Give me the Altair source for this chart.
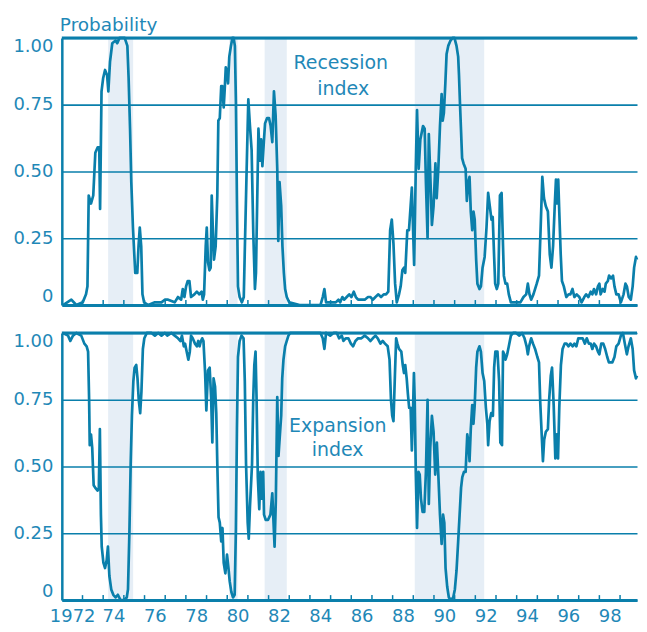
import json
import altair as alt
import pandas as pd

# ---------------- data ----------------
recession = [
    (1972.06, 0.00), (1972.46, 0.02), (1972.70, 0.00), (1973.01, 0.01), (1973.17, 0.04),
    (1973.24, 0.07), (1973.30, 0.41), (1973.41, 0.38), (1973.52, 0.41), (1973.62, 0.57),
    (1973.73, 0.59), (1973.81, 0.59), (1973.85, 0.36), (1973.92, 0.80), (1974.00, 0.85),
    (1974.09, 0.88), (1974.19, 0.86), (1974.25, 0.80), (1974.33, 0.91), (1974.44, 0.98),
    (1974.60, 0.99), (1974.68, 0.98), (1974.79, 1.00), (1975.04, 1.00), (1975.17, 0.97),
    (1975.23, 0.85), (1975.30, 0.66), (1975.36, 0.46), (1975.44, 0.29), (1975.55, 0.12),
    (1975.65, 0.12), (1975.71, 0.22), (1975.77, 0.29), (1975.84, 0.22), (1975.90, 0.04),
    (1975.98, 0.01), (1976.18, 0.00), (1976.50, 0.01), (1976.82, 0.01), (1976.98, 0.02),
    (1977.14, 0.02), (1977.46, 0.01), (1977.62, 0.03), (1977.77, 0.02), (1977.85, 0.06),
    (1977.93, 0.03), (1978.01, 0.07), (1978.09, 0.09), (1978.17, 0.09), (1978.25, 0.03),
    (1978.41, 0.04), (1978.53, 0.05), (1978.65, 0.04), (1978.76, 0.05), (1978.82, 0.02),
    (1978.88, 0.04), (1978.96, 0.22), (1979.01, 0.29), (1979.07, 0.16), (1979.14, 0.13),
    (1979.20, 0.14), (1979.25, 0.41), (1979.31, 0.27), (1979.36, 0.17), (1979.44, 0.22),
    (1979.52, 0.41), (1979.57, 0.69), (1979.64, 0.70), (1979.71, 0.82), (1979.76, 0.82),
    (1979.83, 0.74), (1979.88, 0.81), (1979.93, 0.89), (1979.99, 0.87), (1980.04, 0.83),
    (1980.10, 0.93), (1980.18, 0.97), (1980.25, 1.00), (1980.31, 1.00), (1980.37, 0.97),
    (1980.42, 0.76), (1980.47, 0.39), (1980.52, 0.07), (1980.60, 0.03), (1980.71, 0.01),
    (1980.80, 0.03), (1980.86, 0.24), (1980.94, 0.51), (1981.02, 0.77), (1981.10, 0.67),
    (1981.18, 0.58), (1981.26, 0.27), (1981.34, 0.06), (1981.39, 0.12), (1981.45, 0.39),
    (1981.51, 0.66), (1981.58, 0.54), (1981.64, 0.62), (1981.70, 0.52), (1981.77, 0.61),
    (1981.83, 0.68), (1981.93, 0.70), (1982.02, 0.70), (1982.10, 0.67), (1982.18, 0.61),
    (1982.26, 0.80), (1982.34, 0.71), (1982.42, 0.51), (1982.47, 0.24), (1982.53, 0.46),
    (1982.61, 0.37), (1982.67, 0.22), (1982.74, 0.12), (1982.80, 0.06), (1982.88, 0.03),
    (1983.00, 0.01), (1983.50, 0.00), (1984.00, 0.00), (1984.27, 0.00), (1984.51, 0.00),
    (1984.62, 0.03), (1984.70, 0.06), (1984.78, 0.01), (1984.98, 0.01), (1985.14, 0.01),
    (1985.25, 0.01), (1985.38, 0.02), (1985.46, 0.01), (1985.57, 0.03), (1985.66, 0.02),
    (1985.78, 0.03), (1985.90, 0.04), (1986.01, 0.03), (1986.12, 0.05), (1986.22, 0.03),
    (1986.33, 0.02), (1986.49, 0.02), (1986.65, 0.02), (1986.81, 0.03), (1986.93, 0.03),
    (1987.04, 0.02), (1987.17, 0.03), (1987.31, 0.04), (1987.44, 0.03), (1987.57, 0.04),
    (1987.68, 0.04), (1987.79, 0.05), (1987.88, 0.28), (1987.96, 0.32), (1988.04, 0.23),
    (1988.12, 0.08), (1988.20, 0.01), (1988.31, 0.04), (1988.39, 0.07), (1988.47, 0.13),
    (1988.55, 0.14), (1988.61, 0.12), (1988.71, 0.28), (1988.79, 0.28), (1988.87, 0.37),
    (1988.93, 0.44), (1988.99, 0.28), (1989.04, 0.15), (1989.12, 0.51), (1989.18, 0.73),
    (1989.26, 0.51), (1989.34, 0.62), (1989.47, 0.67), (1989.55, 0.66), (1989.61, 0.46),
    (1989.69, 0.25), (1989.75, 0.64), (1989.82, 0.49), (1989.90, 0.30), (1989.98, 0.37),
    (1990.07, 0.53), (1990.13, 0.40), (1990.21, 0.51), (1990.29, 0.67), (1990.37, 0.79),
    (1990.42, 0.69), (1990.48, 0.72), (1990.55, 0.83), (1990.61, 0.94), (1990.69, 0.97),
    (1990.80, 0.99), (1990.90, 1.00), (1990.99, 1.00), (1991.09, 0.97), (1991.17, 0.93),
    (1991.21, 0.86), (1991.26, 0.75), (1991.31, 0.65), (1991.36, 0.55), (1991.43, 0.53),
    (1991.53, 0.51), (1991.59, 0.39), (1991.66, 0.46), (1991.72, 0.48), (1991.78, 0.35),
    (1991.85, 0.28), (1991.91, 0.35), (1991.97, 0.32), (1992.04, 0.17), (1992.10, 0.08),
    (1992.20, 0.06), (1992.27, 0.07), (1992.35, 0.14), (1992.45, 0.18), (1992.54, 0.29),
    (1992.62, 0.42), (1992.70, 0.37), (1992.78, 0.32), (1992.84, 0.33), (1992.91, 0.18),
    (1992.96, 0.08), (1993.04, 0.06), (1993.11, 0.08), (1993.19, 0.41), (1993.27, 0.42),
    (1993.34, 0.22), (1993.38, 0.11), (1993.46, 0.08), (1993.54, 0.08), (1993.62, 0.04),
    (1993.72, 0.01), (1993.81, 0.01), (1994.02, 0.01), (1994.18, 0.01), (1994.33, 0.03),
    (1994.46, 0.04), (1994.54, 0.08), (1994.62, 0.04), (1994.70, 0.02), (1994.81, 0.04),
    (1994.97, 0.08), (1995.08, 0.11), (1995.16, 0.29), (1995.24, 0.48), (1995.32, 0.40),
    (1995.41, 0.37), (1995.51, 0.35), (1995.60, 0.19), (1995.68, 0.14), (1995.76, 0.22),
    (1995.84, 0.37), (1995.90, 0.47), (1995.95, 0.38), (1996.01, 0.47), (1996.06, 0.35),
    (1996.13, 0.19), (1996.19, 0.09), (1996.28, 0.07), (1996.40, 0.03), (1996.51, 0.04),
    (1996.60, 0.04), (1996.70, 0.06), (1996.79, 0.03), (1996.90, 0.04), (1997.03, 0.03),
    (1997.14, 0.01), (1997.27, 0.03), (1997.36, 0.04), (1997.47, 0.03), (1997.58, 0.05),
    (1997.66, 0.04), (1997.74, 0.06), (1997.84, 0.04), (1997.93, 0.07), (1998.00, 0.08),
    (1998.06, 0.04), (1998.16, 0.06), (1998.25, 0.05), (1998.31, 0.08), (1998.41, 0.09),
    (1998.47, 0.11), (1998.57, 0.10), (1998.66, 0.11), (1998.73, 0.07), (1998.82, 0.04),
    (1998.93, 0.04), (1999.04, 0.01), (1999.17, 0.04), (1999.26, 0.08), (1999.33, 0.07),
    (1999.42, 0.03), (1999.52, 0.02), (1999.61, 0.07), (1999.68, 0.14), (1999.77, 0.18),
    (1999.82, 0.17),
]

expansion = [
    (1972.06, 1.00), (1972.30, 0.99), (1972.41, 0.97), (1972.54, 0.99), (1972.70, 1.00),
    (1972.94, 0.99), (1973.09, 0.96), (1973.20, 0.95), (1973.27, 0.93), (1973.32, 0.75),
    (1973.35, 0.58), (1973.41, 0.62), (1973.47, 0.57), (1973.54, 0.43), (1973.62, 0.42),
    (1973.73, 0.41), (1973.79, 0.42), (1973.84, 0.64), (1973.89, 0.32), (1973.93, 0.20),
    (1974.01, 0.14), (1974.09, 0.12), (1974.17, 0.15), (1974.23, 0.20), (1974.30, 0.09),
    (1974.39, 0.04), (1974.49, 0.02), (1974.60, 0.01), (1974.71, 0.02), (1974.84, 0.00),
    (1975.00, 0.00), (1975.14, 0.01), (1975.20, 0.04), (1975.27, 0.26), (1975.33, 0.51),
    (1975.39, 0.69), (1975.46, 0.82), (1975.52, 0.87), (1975.60, 0.88), (1975.66, 0.83),
    (1975.72, 0.75), (1975.79, 0.70), (1975.85, 0.78), (1975.92, 0.94), (1975.99, 0.98),
    (1976.11, 1.00), (1976.34, 1.00), (1976.50, 0.99), (1976.66, 1.00), (1976.82, 0.99),
    (1976.98, 1.00), (1977.10, 0.99), (1977.30, 1.00), (1977.46, 0.99), (1977.62, 0.98),
    (1977.74, 0.97), (1977.81, 0.99), (1977.90, 0.95), (1977.96, 0.96), (1978.04, 0.93),
    (1978.12, 0.90), (1978.19, 0.93), (1978.25, 0.99), (1978.33, 0.98), (1978.44, 0.96),
    (1978.53, 0.95), (1978.60, 0.97), (1978.66, 0.95), (1978.73, 0.97), (1978.79, 0.98),
    (1978.85, 0.97), (1978.93, 0.85), (1978.99, 0.71), (1979.07, 0.86), (1979.15, 0.87),
    (1979.22, 0.76), (1979.28, 0.59), (1979.34, 0.83), (1979.41, 0.80), (1979.47, 0.70),
    (1979.52, 0.51), (1979.58, 0.31), (1979.64, 0.29), (1979.71, 0.22), (1979.77, 0.27),
    (1979.83, 0.14), (1979.91, 0.10), (1979.99, 0.17), (1980.06, 0.12), (1980.12, 0.07),
    (1980.20, 0.03), (1980.28, 0.01), (1980.36, 0.02), (1980.42, 0.27), (1980.47, 0.64),
    (1980.52, 0.91), (1980.60, 0.97), (1980.69, 0.99), (1980.79, 0.98), (1980.85, 0.82),
    (1980.91, 0.51), (1980.99, 0.29), (1981.04, 0.23), (1981.10, 0.35), (1981.20, 0.51),
    (1981.26, 0.76), (1981.31, 0.88), (1981.37, 0.93), (1981.42, 0.75), (1981.48, 0.46),
    (1981.55, 0.34), (1981.61, 0.48), (1981.67, 0.38), (1981.74, 0.48), (1981.78, 0.32),
    (1981.86, 0.30), (1981.97, 0.30), (1982.09, 0.32), (1982.18, 0.40), (1982.24, 0.29),
    (1982.29, 0.20), (1982.35, 0.37), (1982.42, 0.76), (1982.48, 0.54), (1982.54, 0.61),
    (1982.61, 0.69), (1982.66, 0.83), (1982.72, 0.90), (1982.80, 0.95), (1982.88, 0.97),
    (1982.96, 0.99), (1983.04, 1.00), (1983.50, 1.00), (1984.00, 1.00), (1984.27, 1.00),
    (1984.51, 1.00), (1984.62, 0.98), (1984.70, 0.94), (1984.78, 1.00), (1984.98, 0.99),
    (1985.14, 1.00), (1985.30, 1.00), (1985.41, 0.98), (1985.54, 0.99), (1985.62, 0.97),
    (1985.73, 0.98), (1985.86, 0.98), (1985.98, 0.96), (1986.09, 0.95), (1986.20, 0.97),
    (1986.33, 0.98), (1986.49, 0.98), (1986.65, 0.99), (1986.81, 0.98), (1986.93, 0.97),
    (1987.04, 0.98), (1987.17, 0.99), (1987.28, 0.98), (1987.41, 0.96), (1987.52, 0.97),
    (1987.63, 0.96), (1987.76, 0.95), (1987.85, 0.90), (1987.92, 0.75), (1987.98, 0.69),
    (1988.04, 0.67), (1988.11, 0.84), (1988.17, 0.98), (1988.23, 0.96), (1988.31, 0.94),
    (1988.42, 0.93), (1988.49, 0.88), (1988.55, 0.85), (1988.61, 0.88), (1988.68, 0.83),
    (1988.74, 0.77), (1988.80, 0.72), (1988.87, 0.72), (1988.93, 0.56), (1988.98, 0.69),
    (1989.03, 0.85), (1989.07, 0.74), (1989.12, 0.48), (1989.18, 0.27), (1989.25, 0.48),
    (1989.31, 0.47), (1989.37, 0.38), (1989.45, 0.33), (1989.53, 0.33), (1989.61, 0.48),
    (1989.69, 0.75), (1989.75, 0.36), (1989.82, 0.57), (1989.90, 0.69), (1989.98, 0.63),
    (1990.06, 0.47), (1990.14, 0.59), (1990.21, 0.47), (1990.29, 0.32), (1990.37, 0.21),
    (1990.44, 0.32), (1990.50, 0.29), (1990.56, 0.12), (1990.64, 0.05), (1990.72, 0.01),
    (1990.82, 0.00), (1990.93, 0.01), (1991.01, 0.04), (1991.09, 0.11), (1991.17, 0.22),
    (1991.24, 0.32), (1991.31, 0.42), (1991.37, 0.46), (1991.45, 0.48), (1991.53, 0.48),
    (1991.61, 0.62), (1991.67, 0.59), (1991.72, 0.52), (1991.78, 0.64), (1991.85, 0.73),
    (1991.91, 0.66), (1991.97, 0.73), (1992.04, 0.87), (1992.10, 0.93), (1992.20, 0.95),
    (1992.27, 0.93), (1992.35, 0.85), (1992.43, 0.82), (1992.51, 0.72), (1992.58, 0.66),
    (1992.62, 0.58), (1992.69, 0.67), (1992.77, 0.70), (1992.85, 0.69), (1992.91, 0.87),
    (1992.97, 0.93), (1993.07, 0.93), (1993.15, 0.82), (1993.21, 0.59), (1993.29, 0.58),
    (1993.34, 0.93), (1993.40, 0.92), (1993.46, 0.90), (1993.54, 0.92), (1993.62, 0.95),
    (1993.72, 0.99), (1993.83, 1.00), (1993.97, 1.00), (1994.13, 0.99), (1994.26, 1.00),
    (1994.38, 0.98), (1994.48, 0.95), (1994.54, 0.92), (1994.60, 0.95), (1994.70, 0.98),
    (1994.79, 0.96), (1994.89, 0.94), (1995.00, 0.91), (1995.08, 0.89), (1995.14, 0.74),
    (1995.21, 0.62), (1995.27, 0.52), (1995.33, 0.60), (1995.41, 0.63), (1995.51, 0.64),
    (1995.57, 0.75), (1995.65, 0.84), (1995.71, 0.87), (1995.79, 0.73), (1995.87, 0.53),
    (1995.94, 0.62), (1996.00, 0.53), (1996.06, 0.72), (1996.14, 0.88), (1996.22, 0.94),
    (1996.32, 0.96), (1996.41, 0.96), (1996.51, 0.95), (1996.60, 0.96), (1996.71, 0.95),
    (1996.79, 0.96), (1996.89, 0.95), (1996.98, 0.98), (1997.08, 0.98), (1997.19, 0.98),
    (1997.30, 0.96), (1997.39, 0.98), (1997.49, 0.96), (1997.58, 0.96), (1997.66, 0.94),
    (1997.74, 0.96), (1997.84, 0.95), (1997.93, 0.93), (1998.00, 0.92), (1998.09, 0.96),
    (1998.19, 0.96), (1998.28, 0.94), (1998.38, 0.91), (1998.46, 0.89), (1998.54, 0.89),
    (1998.63, 0.89), (1998.73, 0.91), (1998.82, 0.95), (1998.93, 0.96), (1999.04, 0.99),
    (1999.14, 1.00), (1999.23, 0.96), (1999.33, 0.92), (1999.41, 0.95), (1999.52, 0.98),
    (1999.61, 0.94), (1999.68, 0.86), (1999.77, 0.83), (1999.82, 0.84),
]

shade_start = [1974.24, 1980.10, 1981.81, 1989.07]
shade_end = [1975.45, 1980.50, 1982.88, 1992.43]

tick_years = list(range(1973, 2000))
label_years = list(range(1972, 1999, 2))
label_text = ["1972"] + [str(y)[2:] for y in label_years[1:]]
y_ticks = [0, 0.25, 0.5, 0.75, 1.0]

title_text = "Probability"
rec_note_text = ["Recession", "index"]
rec_note_x = [1985.49, 1985.61]
rec_note_y = [0.884, 0.788]
exp_note_text = ["Expansion", "index"]
exp_note_x = [1985.35, 1985.34]
exp_note_y = [0.631, 0.538]

# ---------------- styling ----------------
BLUE = "#0a7fab"
TXT = "#1f88b7"
SHADE = "#e6eef6"
FONT = "DejaVu Sans"
FS = 18
W, H = 577, 268
XDOM = [1972.0, 1999.82]

rec_df = pd.DataFrame({"year": [p[0] for p in recession], "value": [p[1] for p in recession]})
exp_df = pd.DataFrame({"year": [p[0] for p in expansion], "value": [p[1] for p in expansion]})
shade_df = pd.DataFrame({"start": shade_start, "end": shade_end})
tick_df = pd.DataFrame({"year": tick_years})
top_df = pd.DataFrame({"v": [1.0]})
title_df = pd.DataFrame({"t": [title_text]})
rec_notes = pd.DataFrame({"x": rec_note_x, "y": rec_note_y, "text": rec_note_text})
exp_notes = pd.DataFrame({"x": exp_note_x, "y": exp_note_y, "text": exp_note_text})

xscale = alt.Scale(domain=XDOM, nice=False, zero=False)
yscale = alt.Scale(domain=[0, 1], nice=False, zero=False)

label_pos = [y + 0.5 for y in label_years]
label_expr = "indexof(%s, datum.value) >= 0 ? %s[indexof(%s, datum.value)] : ''" % (
    json.dumps(label_pos), json.dumps(label_text), json.dumps(label_pos))


def xaxis(show):
    common = dict(title=None, values=label_pos, grid=False, ticks=False, tickSize=0,
                  domain=True, domainColor=BLUE, domainWidth=3, zindex=1)
    if show:
        return alt.Axis(labels=True, labelExpr=label_expr, labelFont=FONT, labelFontSize=FS,
                        labelColor=TXT, labelPadding=7, labelFlush=False, labelOverlap=False,
                        **common)
    return alt.Axis(labels=False, **common)


yaxis = alt.Axis(title=None, values=y_ticks,
                 labelExpr="datum.value == 0 ? '0' : format(datum.value, '.2f')",
                 labelFlush=True, labelFont=FONT, labelFontSize=FS, labelColor=TXT,
                 labelPadding=9, ticks=False, tickSize=0, grid=True, gridColor=BLUE,
                 gridWidth=1.6, domain=True, domainColor=BLUE, domainWidth=2.5,
                 minExtent=50, maxExtent=50, zindex=1)


def panel(df, notes, show_labels, with_title=False):
    xa = xaxis(show_labels)
    shade = alt.Chart(shade_df).mark_rect(color=SHADE).encode(
        x=alt.X("start:Q", scale=xscale, axis=xa), x2="end:Q")
    line = alt.Chart(df).mark_line(color=BLUE, strokeWidth=2.7, strokeJoin="round").encode(
        x=alt.X("year:Q", scale=xscale, axis=xa),
        y=alt.Y("value:Q", scale=yscale, axis=yaxis))
    ticks = alt.Chart(tick_df).mark_rule(color=BLUE, strokeWidth=1.5).encode(
        x=alt.X("year:Q", scale=xscale, axis=xa),
        y=alt.value(H - 5), y2=alt.value(H))
    toprule = alt.Chart(top_df).mark_rule(color=BLUE, strokeWidth=3).encode(
        y=alt.Y("v:Q", scale=yscale, axis=yaxis))
    text = alt.Chart(notes).mark_text(font=FONT, fontSize=19, color=TXT, align="center",
                                      baseline="alphabetic").encode(
        x=alt.X("x:Q", scale=xscale, axis=xa),
        y=alt.Y("y:Q", scale=yscale, axis=yaxis),
        text="text:N")
    layers = [shade, line, ticks, toprule, text]
    if with_title:
        ttl = alt.Chart(title_df).mark_text(font=FONT, fontSize=18.5, color=TXT, align="left",
                                            baseline="alphabetic").encode(
            x=alt.value(-2), y=alt.value(-7), text="t:N")
        layers.append(ttl)
    return alt.layer(*layers).properties(width=W, height=H)


top = panel(rec_df, rec_notes, False, with_title=True)
bottom = panel(exp_df, exp_notes, True)

chart = alt.vconcat(top, bottom, spacing=24).properties(
    padding={"left": 4, "top": 7, "right": 0, "bottom": 0},
    background="white",
).configure_view(stroke=None)

chart.save("out.html", embed_options={"renderer": "svg", "actions": False})
